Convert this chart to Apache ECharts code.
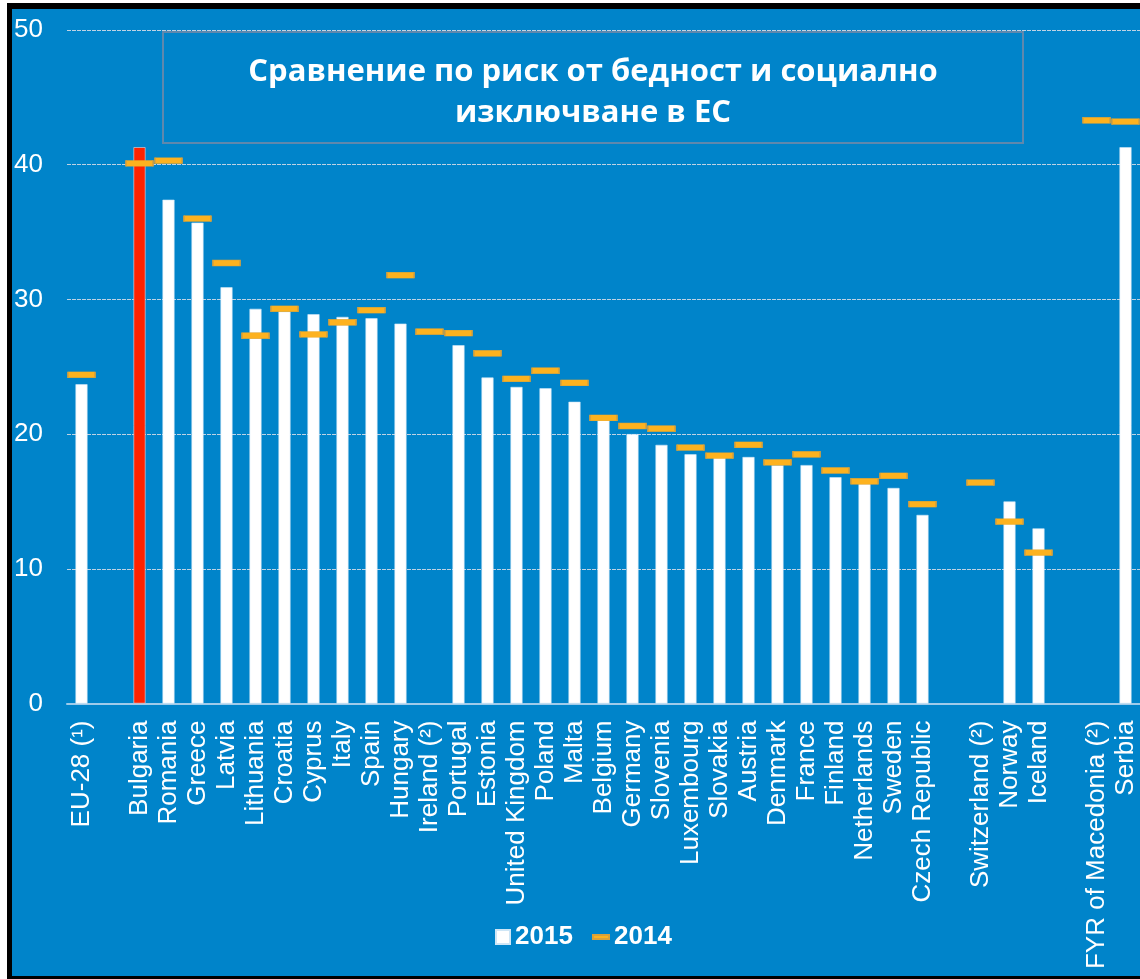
<!DOCTYPE html>
<html>
<head>
<meta charset="utf-8">
<title>AROPE</title>
<script src="https://cdn.jsdelivr.net/npm/echarts@6/dist/echarts.min.js"></script>
<style>
  html, body { margin: 0; padding: 0; background: #ffffff; overflow: hidden; }
  #frame {
    position: absolute; left: 7px; top: 3px; width: 1140px; height: 976px;
    box-sizing: border-box; background: #0084ca;
    border-left: 5px solid #000; border-top: 6px solid #000; border-bottom: 3px solid #000;
  }
  #main { position: absolute; left: 0; top: 0; width: 1140px; height: 979px; }
</style>
</head>
<body>
<div id="frame"></div>
<div id="main"></div>
<script>
// categories, blank strings are the gaps between groups
const categories = [
  'EU-28 (¹)', ' ', 'Bulgaria', 'Romania', 'Greece', 'Latvia', 'Lithuania', 'Croatia',
  'Cyprus', 'Italy', 'Spain', 'Hungary', 'Ireland (²)', 'Portugal', 'Estonia',
  'United Kingdom', 'Poland', 'Malta', 'Belgium', 'Germany', 'Slovenia', 'Luxembourg',
  'Slovakia', 'Austria', 'Denmark', 'France', 'Finland', 'Netherlands', 'Sweden',
  'Czech Republic', '  ', 'Switzerland (²)', 'Norway', 'Iceland', '   ',
  'FYR of Macedonia (²)', 'Serbia'
]
const values2015 = [
  23.7, null, 41.3, 37.4, 35.7, 30.9, 29.3, 29.1, 28.9, 28.7, 28.6, 28.2, null, 26.6, 24.2,
  23.5, 23.4, 22.4, 21.1, 20.0, 19.2, 18.5, 18.4, 18.3, 17.7, 17.7, 16.8, 16.4, 16.0, 14.0,
  null, null, 15.0, 13.0, null, null, 41.3
]
const values2014 = [
  24.4, null, 40.1, 40.3, 36.0, 32.7, 27.3, 29.3, 27.4, 28.3, 29.2, 31.8, 27.6, 27.5, 26.0,
  24.1, 24.7, 23.8, 21.2, 20.6, 20.4, 19.0, 18.4, 19.2, 17.9, 18.5, 17.3, 16.5, 16.9, 14.8,
  null, 16.4, 13.5, 11.2, null, 43.3, 43.2
]
const yTicks = [0, 10, 20, 30, 40, 50]
const highlighted = 'Bulgaria'

const white = '#ffffff'
const orange = '#fdb21f'
const red = '#ff2200'
const labelFont = '"Liberation Sans", Arial, sans-serif'

const barData = values2015.map((v, i) => {
  if (v === null) return '-'
  if (categories[i] === highlighted) return { value: v, itemStyle: { color: red } }
  return v
})
const lineData = values2014.map((v) => (v === null ? '-' : v))

const option = {
  animation: false,
  grid: { left: 67, right: 0, top: 30, bottom: 275.5 },
  graphic: [
    {
      type: 'rect',
      shape: { x: 163, y: 32, width: 860, height: 111 },
      style: { fill: '#0084ca', stroke: '#5f88ad', lineWidth: 2 },
      z: 10
    },
    {
      type: 'text',
      x: 593,
      y: 93,
      style: {
        text: 'Сравнение по риск от бедност и социално\nизключване в ЕС',
        fill: white,
        font: 'bold 31px "Open Sans", sans-serif',
        lineHeight: 41,
        align: 'center',
        verticalAlign: 'middle'
      },
      z: 11
    }
  ],
  legend: [
    {
      data: [{ name: '2015', icon: 'rect' }],
      left: 495,
      top: 924,
      padding: 0,
      itemWidth: 14,
      itemHeight: 14,
      textStyle: { color: white, fontWeight: 'bold', fontSize: 26, fontFamily: labelFont }
    },
    {
      data: [{ name: '2014', icon: 'rect' }],
      left: 592,
      top: 924,
      padding: 0,
      itemWidth: 16,
      itemHeight: 4,
      textStyle: { color: white, fontWeight: 'bold', fontSize: 26, fontFamily: labelFont }
    }
  ],
  xAxis: {
    type: 'category',
    data: categories,
    boundaryGap: true,
    axisLine: { lineStyle: { color: '#9fcbea', width: 2 } },
    axisTick: { interval: 0, length: 6, lineStyle: { color: '#9fcbea', width: 1.5 } },
    axisLabel: {
      interval: 0,
      rotate: 90,
      margin: 17,
      color: white,
      fontSize: 26,
      fontFamily: labelFont
    }
  },
  yAxis: {
    type: 'value',
    min: yTicks[0],
    max: yTicks[yTicks.length - 1],
    interval: 10,
    axisLine: { show: false },
    axisTick: { show: false },
    axisLabel: { color: white, fontSize: 26, fontFamily: labelFont, margin: 24 },
    splitLine: { lineStyle: { color: '#bfd3e4', type: [4, 1], width: 1 } }
  },
  series: [
    {
      name: '2015',
      type: 'bar',
      data: barData,
      barWidth: 12,
      itemStyle: { color: white, borderColor: '#cfe6f6', borderWidth: 0.6 },
      z: 2
    },
    {
      name: '2014',
      type: 'scatter',
      data: lineData,
      symbol: 'rect',
      symbolSize: [27, 6],
      itemStyle: { color: orange, borderColor: '#d9a13a', borderWidth: 0.8, opacity: 1 },
      z: 3
    }
  ]
}

const chart = echarts.init(document.getElementById('main'))
chart.setOption(option)
</script>
</body>
</html>
